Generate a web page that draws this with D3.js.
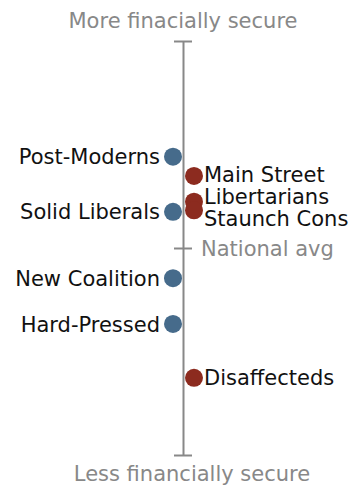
<!DOCTYPE html>
<html>
<head>
<meta charset="utf-8">
<script src="https://cdn.jsdelivr.net/npm/d3@7"></script>
<style>
  html, body { margin: 0; padding: 0; background: #fff; }
  svg { display: block; }
  text { font-family: "DejaVu Sans", Verdana, sans-serif; }
</style>
</head>
<body>
<script>
// Segments and their financial-security score relative to the national average
const segments = ["Post-Moderns", "Main Street", "Libertarians", "Staunch Cons",
                  "Solid Liberals", "New Coalition", "Hard-Pressed", "Disaffecteds"];
const scores = [44.1, 34.8, 22.4, 18.2, 17.5, -14.6, -36.7, -62.7];
const sides = ["left", "right", "right", "right", "left", "left", "left", "right"];

const topLabel = "More finacially secure";
const bottomLabel = "Less financially secure";
const avgLabel = "National avg";

const width = 362, height = 487;
const axisX = 183;
const fontSize = 21;
const colors = { left: "#466b8b", right: "#8c2b1f" };

const svg = d3.select("body").append("svg")
  .attr("width", width).attr("height", height);

const y = d3.scaleLinear().domain([-100, 100]).range([455, 41]);

// Vertical axis with end caps and a centre tick for the national average
const axis = d3.axisLeft(y).tickValues([-100, 0, 100]).tickSize(0).tickFormat("");
const gAxis = svg.append("g").attr("transform", `translate(${axisX},0)`).call(axis);
gAxis.select(".domain").attr("stroke", "#888").attr("stroke-width", 2);
gAxis.selectAll(".tick line")
  .attr("x1", -9).attr("x2", 9)
  .attr("stroke", "#888").attr("stroke-width", 2);

svg.append("text")
  .attr("x", axisX).attr("y", 28)
  .attr("text-anchor", "middle")
  .attr("fill", "#888").attr("font-size", fontSize)
  .text(topLabel);

svg.append("text")
  .attr("x", 192).attr("y", 481)
  .attr("text-anchor", "middle")
  .attr("fill", "#888").attr("font-size", fontSize)
  .text(bottomLabel);

svg.append("text")
  .attr("x", axisX + 18).attr("y", y(0))
  .attr("dy", "0.36em")
  .attr("fill", "#888").attr("font-size", fontSize)
  .text(avgLabel);

const data = segments.map((name, i) => ({ name, score: scores[i], side: sides[i] }));
const dotX = d => d.side === "left" ? axisX - 10 : axisX + 11;
const r = 9;

// Spread labels on each side so they don't collide
const minGap = 22;
["left", "right"].forEach(side => {
  const items = data.filter(d => d.side === side).sort((a, b) => y(a.score) - y(b.score));
  items.forEach(d => d.ly = y(d.score));
  for (let iter = 0; iter < 200; iter++) {
    for (let i = 0; i < items.length - 1; i++) {
      const a = items[i], b = items[i + 1];
      const gap = b.ly - a.ly;
      if (gap < minGap) {
        const push = (minGap - gap) / 2;
        a.ly -= push; b.ly += push;
      }
    }
  }
});

svg.append("g").selectAll("circle")
  .data(data)
  .join("circle")
  .attr("cx", dotX)
  .attr("cy", d => y(d.score))
  .attr("r", r)
  .attr("fill", d => colors[d.side]);

svg.append("g").selectAll("text")
  .data(data)
  .join("text")
  .attr("x", d => d.side === "left" ? dotX(d) - r - 4 : dotX(d) + r + 1)
  .attr("y", d => d.ly)
  .attr("dy", "0.36em")
  .attr("text-anchor", d => d.side === "left" ? "end" : "start")
  .attr("fill", "#111")
  .attr("font-size", fontSize)
  .text(d => d.name);
</script>
</body>
</html>
